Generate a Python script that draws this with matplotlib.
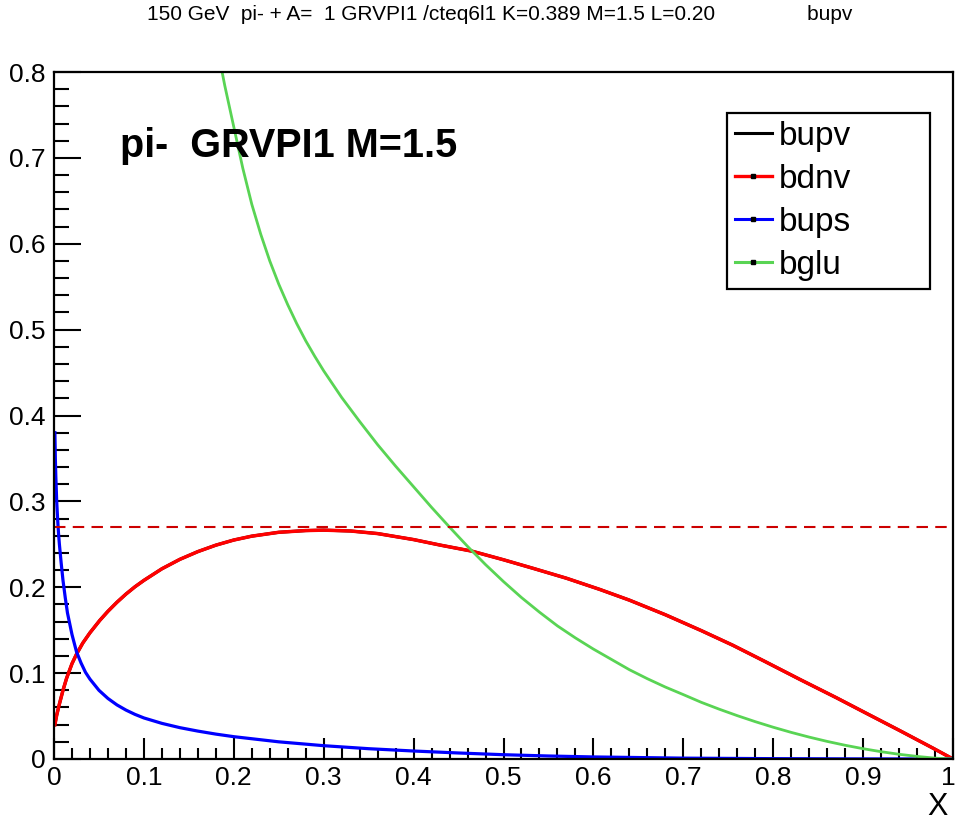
import numpy as np
import matplotlib
matplotlib.use('Agg')
import matplotlib.pyplot as plt
from matplotlib.lines import Line2D
from matplotlib.ticker import MultipleLocator
from matplotlib.transforms import ScaledTranslation

plt.rcParams['font.family'] = ['Liberation Sans', 'DejaVu Sans']

# valence curve (bupv and bdnv coincide for pi-)
x_val = [0.001, 0.003, 0.006, 0.01, 0.014, 0.02, 0.025, 0.032, 0.04, 0.051,
         0.06, 0.07, 0.08, 0.09, 0.10, 0.12, 0.14, 0.16, 0.18, 0.20, 0.22,
         0.25, 0.28, 0.30, 0.33, 0.36, 0.40, 0.43, 0.465, 0.50, 0.533, 0.57,
         0.607, 0.64, 0.68, 0.72, 0.755, 0.79, 0.83, 0.87, 0.904, 0.94, 0.978,
         1.0]
bupv = [0.040, 0.051, 0.064, 0.080, 0.094, 0.111, 0.122, 0.135, 0.147, 0.1615,
        0.172, 0.1825, 0.192, 0.2005, 0.208, 0.2215, 0.2325, 0.2415, 0.249,
        0.255, 0.2595, 0.264, 0.266, 0.2665, 0.2655, 0.2625, 0.2555, 0.249,
        0.242, 0.232, 0.222, 0.2105, 0.1975, 0.185, 0.168, 0.1495, 0.1325,
        0.114, 0.0925, 0.0715, 0.053, 0.0335, 0.0125, 0.0]
bdnv = list(bupv)

# sea
x_sea = [0.001, 0.0015, 0.002, 0.003, 0.004, 0.005, 0.006, 0.008, 0.01, 0.0125,
         0.015, 0.02, 0.025, 0.03, 0.035, 0.04, 0.05, 0.06, 0.07, 0.08, 0.09,
         0.10, 0.12, 0.14, 0.16, 0.18, 0.20, 0.25, 0.30, 0.35, 0.40, 0.45,
         0.50, 0.55, 0.60, 0.70, 0.80, 0.90, 1.0]
bups = [0.380, 0.350, 0.330, 0.300, 0.280, 0.263, 0.250, 0.228, 0.208, 0.188,
        0.170, 0.145, 0.125, 0.112, 0.101, 0.093, 0.080, 0.0705, 0.063, 0.057,
        0.052, 0.0478, 0.0415, 0.0365, 0.0325, 0.029, 0.026, 0.020, 0.0155,
        0.012, 0.0093, 0.0070, 0.0050, 0.0035, 0.0024, 0.0010, 0.0004,
        0.0001, 0.0]

# gluon
x_glu = [0.187, 0.19, 0.20, 0.21, 0.22, 0.23, 0.24, 0.25, 0.26, 0.27, 0.28,
         0.29, 0.30, 0.32, 0.34, 0.36, 0.38, 0.40, 0.42, 0.44, 0.46, 0.48,
         0.50, 0.52, 0.54, 0.56, 0.58, 0.60, 0.62, 0.64, 0.66, 0.68, 0.70,
         0.72, 0.74, 0.76, 0.78, 0.80, 0.82, 0.84, 0.86, 0.88, 0.90, 0.92,
         0.94, 0.96, 0.98, 1.0]
bglu = [0.800, 0.784, 0.736, 0.688, 0.646, 0.611, 0.580, 0.553, 0.529, 0.507,
        0.487, 0.469, 0.452, 0.421, 0.393, 0.366, 0.341, 0.317, 0.293, 0.270,
        0.2476, 0.2264, 0.2066, 0.188, 0.171, 0.155, 0.141, 0.128, 0.116,
        0.104, 0.0935, 0.0838, 0.075, 0.066, 0.058, 0.0505, 0.0435, 0.037,
        0.031, 0.0255, 0.0205, 0.016, 0.012, 0.0085, 0.0055, 0.003, 0.001,
        0.0]

ref_level = 0.27


def tick_fmt(v, pos):
    # the label at x=1 is drawn separately, pulled in from the canvas edge
    if abs(v - 1.0) < 1e-9:
        return ''
    return '%g' % round(v, 2)


fig = plt.figure(figsize=(9.57, 8.23), dpi=100)
ax = fig.add_axes([54 / 957, 1 - 759 / 823, 899 / 957, 687 / 823])

ax.plot(x_val, bupv, color='black', lw=2.2)
ax.plot(x_val, bdnv, color='#ff0000', lw=2.5)
ax.plot(x_sea, bups, color='#0000ff', lw=2.3)
ax.plot(x_glu, bglu, color='#59d454', lw=2.0)
ax.axhline(ref_level, color='#cc0000', lw=1.5, dashes=(5.5, 3.5))

ax.set_xlim(0, 1)
ax.set_ylim(0, 0.8)
ax.xaxis.set_major_locator(MultipleLocator(0.1))
ax.xaxis.set_minor_locator(MultipleLocator(0.02))
ax.yaxis.set_major_locator(MultipleLocator(0.1))
ax.yaxis.set_minor_locator(MultipleLocator(0.02))
ax.xaxis.set_major_formatter(plt.FuncFormatter(tick_fmt))
ax.yaxis.set_major_formatter(plt.FuncFormatter(lambda v, p: '%g' % round(v, 2)))

ax.tick_params(which='both', direction='in', top=False, right=False, width=1.5,
               labelsize=19)
ax.tick_params(axis='y', which='major', length=19.5, pad=6)
ax.tick_params(axis='y', which='minor', length=10.8)
ax.tick_params(axis='x', which='major', length=15, pad=5)
ax.tick_params(axis='x', which='minor', length=8)
for s in ax.spines.values():
    s.set_linewidth(1.6)

ax.text(1.0, 0.0, '1', fontsize=19, ha='center', va='top',
        transform=ax.get_xaxis_transform() + ScaledTranslation(-0.05, -5 / 72, fig.dpi_scale_trans))

fig.text(0.5225, 0.982, '150 GeV  pi- + A=  1 GRVPI1 /cteq6l1 K=0.389 M=1.5 L=0.20'
         '                bupv', ha='center', va='center', fontsize=15)
ax.text(0.073, 0.876, 'pi-  GRVPI1 M=1.5', transform=ax.transAxes, fontsize=28.5,
        fontweight='bold', va='baseline', ha='left')
fig.text(948 / 957, 1 - 807 / 823, 'X', ha='right', va='center', fontsize=22)

handles = [Line2D([], [], color='black', lw=2.2),
           Line2D([], [], color='#ff0000', lw=2.4, marker='s', markersize=2.2,
                  markerfacecolor='black', markeredgecolor='black'),
           Line2D([], [], color='#0000ff', lw=2.2, marker='s', markersize=2.2,
                  markerfacecolor='black', markeredgecolor='black'),
           Line2D([], [], color='#59d454', lw=2.2, marker='s', markersize=2.2,
                  markerfacecolor='black', markeredgecolor='black')]
leg = ax.legend(handles, ['bupv', 'bdnv', 'bups', 'bglu'], loc='upper left',
                bbox_to_anchor=(727 / 957, 1 - 286 / 823, 203 / 957, 173 / 823),
                bbox_transform=fig.transFigure, mode='expand',
                fontsize=24, frameon=True, fancybox=False, framealpha=1,
                handlelength=1.1, handletextpad=0.21, labelspacing=0.36,
                borderpad=0.24, borderaxespad=0, numpoints=1)
leg.get_frame().set_edgecolor('black')
leg.get_frame().set_linewidth(1.6)

fig.savefig('out.png', dpi=100)
